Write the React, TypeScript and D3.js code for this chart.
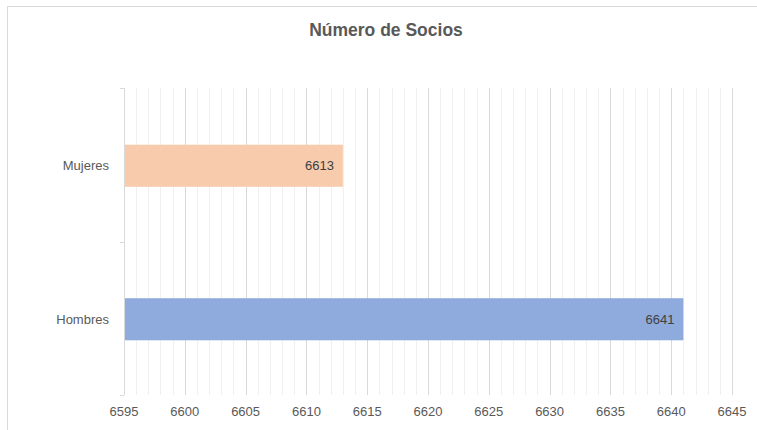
import React from "react";
import * as d3 from "d3";

const categories = ["Mujeres", "Hombres"];
const values = [6613, 6641];
const colors = ["#f8cbad", "#8faadc"];
const xTicks = [6595, 6600, 6605, 6610, 6615, 6620, 6625, 6630, 6635, 6640, 6645];
const title = "Número de Socios";

export default function App() {
  const W = 757, H = 430;
  const left = 124, right = 732, top = 88, bottom = 395;
  const x = d3.scaleLinear().domain([6595, 6645]).range([left, right]);
  const y = d3.scaleBand<string>().domain(categories).range([top, bottom]).padding(0);
  const barH = y.bandwidth() * 0.274;
  const minor = d3.range(6595, 6646, 1);
  const font = "'Liberation Sans', Arial, sans-serif";
  const textColor = "#595959";
  return (
    <svg width={W} height={H} style={{ position: "absolute", left: 0, top: 0 }} fontFamily={font}>
      <rect x={0} y={0} width={W} height={H} fill="#fff" />
      <rect x={7.5} y={6.5} width={W + 20} height={H + 20} fill="none" stroke="#d9d9d9" strokeWidth={1} />
      <text x={386} y={36} textAnchor="middle" fontSize={17.5} fontWeight="bold" fill={textColor}>{title}</text>
      {minor.map((v) => (
        <line key={"m" + v} x1={Math.round(x(v)) + 0.5} x2={Math.round(x(v)) + 0.5} y1={top} y2={bottom}
          stroke={v % 5 === 0 ? "#d9d9d9" : "#f0f0f0"} strokeWidth={1} />
      ))}
      {categories.map((c, i) => {
        const cy = (y(c) as number) + y.bandwidth() / 2 + 1;
        return (
          <g key={c}>
            <rect x={x(6595)} y={cy - barH / 2} width={x(values[i]) - x(6595)} height={barH} fill={colors[i]} />
            <text x={x(values[i]) - 9} y={cy + 4.5} textAnchor="end" fontSize={13} fill="#404040">{values[i]}</text>
            <text x={109} y={cy + 4.5} textAnchor="end" fontSize={13} fill={textColor}>{c}</text>
          </g>
        );
      })}
      <line x1={left + 0.5} x2={left + 0.5} y1={top} y2={bottom} stroke="#d9d9d9" />
      {[top, (y("Hombres") as number), bottom].map((ty, i) => (
        <line key={"t" + i} x1={left - 4} x2={left} y1={Math.round(ty) + 0.5} y2={Math.round(ty) + 0.5} stroke="#d9d9d9" />
      ))}
      {xTicks.map((v) => (
        <text key={"x" + v} x={x(v)} y={416} textAnchor="middle" fontSize={13} fill={textColor}>{v}</text>
      ))}
    </svg>
  );
}
